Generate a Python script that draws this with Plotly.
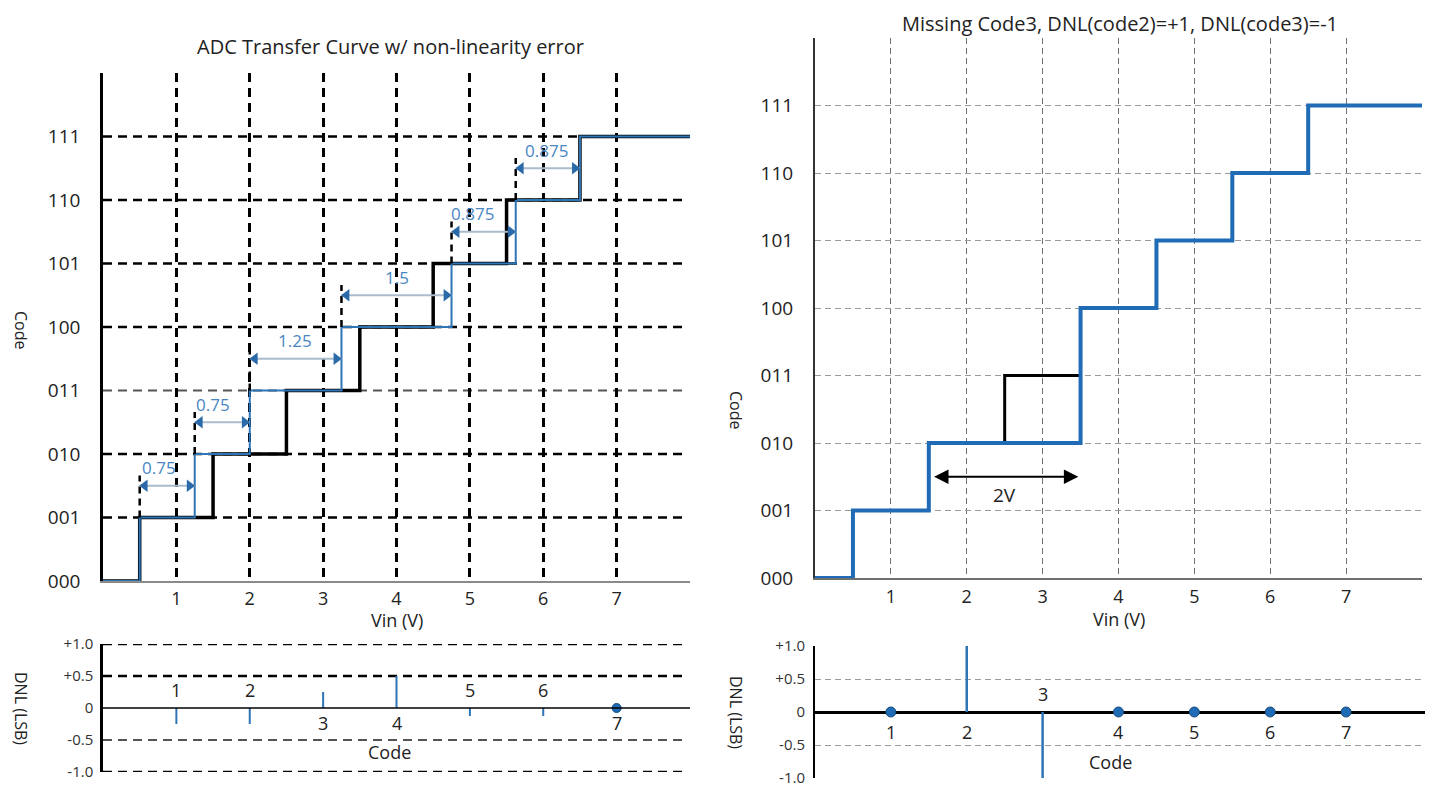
import plotly.graph_objects as go

# ---------------- data ----------------
code_labels = ["000", "001", "010", "011", "100", "101", "110", "111"]
code_levels = [0, 1, 2, 3, 4, 5, 6, 7]
vin_ticks = [1, 2, 3, 4, 5, 6, 7]

# left: ideal vs. actual transition voltages (code k entered at edge k-1)
ideal_edges = [0.5, 1.5, 2.5, 3.5, 4.5, 5.5, 6.5]
actual_edges = [0.5, 1.25, 2.0, 3.25, 4.75, 5.625, 6.5]
width_labels = ["0.75", "0.75", "1.25", "1.5", "0.875", "0.875"]
width_label_x = [0.76, 1.5, 2.62, 4.0, 5.04, 6.04]

dnl_codes = [1, 2, 3, 4, 5, 6, 7]
dnl_left = [-0.25, -0.25, 0.25, 0.5, -0.125, -0.125, 0.0]

# right: missing code 3
right_edges = [0.5, 1.5, 3.5, 4.5, 5.5, 6.5]
right_codes = [1, 2, 4, 5, 6, 7]
ideal_code3_x = [2.5, 2.5, 3.5]
ideal_code3_y = [2, 3, 3]
dnl_right = [0.0, 1.0, -1.0, 0.0, 0.0, 0.0, 0.0]

dnl_ticks = [-1.0, -0.5, 0.0, 0.5, 1.0]
dnl_ticktext = ["-1.0", "-0.5", "0", "+0.5", "+1.0"]

XMAX = 8

FONT = "Open Sans"
BLUE = "#2e75b6"
BLUE_DARK = "#1f6bb5"
TXT = "#222222"

W, H = 1435, 789
OFF = 8  # page body margin


def px_x(p):
    return (p - OFF) / W


def px_y(p):
    return 1 - (p - OFF) / H


fig = go.Figure()

# ---------------- top-left transfer curve ----------------
fig.add_trace(go.Scatter(
    x=[0] + ideal_edges + [XMAX], y=[0] + code_levels[1:] + [7],
    mode="lines", line=dict(color="black", width=3.5, shape="hv"),
    xaxis="x", yaxis="y", hoverinfo="skip"))
fig.add_trace(go.Scatter(
    x=[0] + actual_edges + [XMAX], y=[0] + code_levels[1:] + [7],
    mode="lines", line=dict(color=BLUE, width=2, shape="hv"),
    xaxis="x", yaxis="y", hoverinfo="skip"))

# width dimension arrows
ext_x, ext_y, sh_x, sh_y = [], [], [], []
hl_x, hl_y, hr_x, hr_y = [], [], [], []
off = 0.07
for i, lab in enumerate(width_labels):
    k = i + 1
    s, e = actual_edges[i], actual_edges[i + 1]
    ym = k + 0.5
    ext_x += [s, s, None]
    ext_y += [k, k + 0.66, None]
    sh_x += [s, e, None]
    sh_y += [ym, ym, None]
    hl_x.append(s + off)
    hl_y.append(ym)
    hr_x.append(e - off)
    hr_y.append(ym)
fig.add_trace(go.Scatter(x=ext_x, y=ext_y, mode="lines",
                         line=dict(color="black", width=2.5, dash="7px,5px"),
                         xaxis="x", yaxis="y", hoverinfo="skip"))
fig.add_trace(go.Scatter(x=sh_x, y=sh_y, mode="lines",
                         line=dict(color="#a9bccd", width=1.8),
                         xaxis="x", yaxis="y", hoverinfo="skip"))
fig.add_trace(go.Scatter(x=hl_x, y=hl_y, mode="markers",
                         marker=dict(symbol="triangle-left", size=11, color="#2a6aa8"),
                         xaxis="x", yaxis="y", hoverinfo="skip"))
fig.add_trace(go.Scatter(x=hr_x, y=hr_y, mode="markers",
                         marker=dict(symbol="triangle-right", size=11, color="#2a6aa8"),
                         xaxis="x", yaxis="y", hoverinfo="skip"))

annotations = []
for i, lab in enumerate(width_labels):
    annotations.append(dict(x=width_label_x[i], y=i + 1.5, xref="x", yref="y",
                            xanchor="center", yanchor="middle",
                            text=lab, showarrow=False, yshift=18,
                            font=dict(family=FONT, size=17, color="#4a86c2")))

# ---------------- bottom-left DNL ----------------
st_x, st_y, dot_x = [], [], []
for c, v in zip(dnl_codes, dnl_left):
    if v == 0:
        dot_x.append(c)
    else:
        st_x += [c, c, None]
        st_y += [0, v, None]
fig.add_trace(go.Scatter(x=st_x, y=st_y, mode="lines",
                         line=dict(color=BLUE, width=2),
                         xaxis="x2", yaxis="y2", hoverinfo="skip"))
fig.add_trace(go.Scatter(x=dot_x, y=[0] * len(dot_x), mode="markers",
                         marker=dict(size=9, color=BLUE_DARK, line=dict(color="#174a7c", width=1)),
                         xaxis="x2", yaxis="y2", hoverinfo="skip"))
for c, v in zip(dnl_codes, dnl_left):
    annotations.append(dict(x=c, y=0, xref="x2", yref="y2", text=str(c), showarrow=False,
                            xanchor="center", yanchor="middle",
                            yshift=(18 if v < 0 else -15),
                            font=dict(family=FONT, size=18, color=TXT)))

# ---------------- top-right missing code ----------------
fig.add_trace(go.Scatter(x=ideal_code3_x, y=ideal_code3_y, mode="lines",
                         line=dict(color="black", width=3),
                         xaxis="x3", yaxis="y3", hoverinfo="skip"))
fig.add_trace(go.Scatter(x=[0] + right_edges + [XMAX], y=[0] + right_codes + [7],
                         mode="lines", line=dict(color=BLUE_DARK, width=4, shape="hv"),
                         xaxis="x3", yaxis="y3", hoverinfo="skip"))
annotations.append(dict(x=3.47, y=1.5, ax=1.55, ay=1.5, xref="x3", yref="y3",
                        axref="x3", ayref="y3", text="", showarrow=True,
                        arrowhead=2, arrowside="end+start", arrowsize=1.6,
                        arrowwidth=1.8, arrowcolor="black"))
annotations.append(dict(x=2.5, y=1.5, xref="x3", yref="y3", text="2V", showarrow=False,
                        xanchor="center", yanchor="middle",
                        yshift=-18, font=dict(family=FONT, size=19, color=TXT)))

# ---------------- bottom-right DNL ----------------
st_x, st_y, dot_x = [], [], []
for c, v in zip(dnl_codes, dnl_right):
    if v == 0:
        dot_x.append(c)
    else:
        st_x += [c, c, None]
        st_y += [0, v, None]
fig.add_trace(go.Scatter(x=st_x, y=st_y, mode="lines",
                         line=dict(color=BLUE, width=2.5),
                         xaxis="x4", yaxis="y4", hoverinfo="skip"))
fig.add_trace(go.Scatter(x=dot_x, y=[0] * len(dot_x), mode="markers",
                         marker=dict(size=10, color=BLUE_DARK, line=dict(color="#174a7c", width=1)),
                         xaxis="x4", yaxis="y4", hoverinfo="skip"))
for c, v in zip(dnl_codes, dnl_right):
    annotations.append(dict(x=c, y=0, xref="x4", yref="y4", text=str(c), showarrow=False,
                            xanchor="center", yanchor="middle",
                            yshift=(18 if v < 0 else -20),
                            font=dict(family=FONT, size=18, color=TXT)))

# ---------------- shapes: gridlines for left panels ----------------
shapes = []
for k in code_levels[1:]:
    shapes.append(dict(type="line", xref="x", yref="y", x0=0, x1=7.95, y0=k, y1=k,
                       layer="below",
                       line=dict(color=("#555555" if k == 3 else "black"),
                                 width=(2 if k == 3 else 2.5), dash="9px,6px")))
for v in dnl_ticks:
    if v == 0:
        shapes.append(dict(type="line", xref="x2", yref="y2", x0=0, x1=XMAX, y0=0, y1=0,
                           line=dict(color="black", width=1.5)))
    else:
        shapes.append(dict(type="line", xref="x2", yref="y2", x0=0, x1=7.95, y0=v, y1=v,
                           layer="below",
                           line=dict(color=("#555555" if v == -0.5 else "black"),
                                     width=(2.2 if v == -0.5 else 2.5), dash="9px,6px")))

# ---------------- text annotations ----------------
def txt(x, y, text, size, xref="paper", yref="paper", angle=0):
    return dict(x=x, y=y, xref=xref, yref=yref, text=text, showarrow=False,
                xanchor="center", yanchor="middle", textangle=angle,
                font=dict(family=FONT, size=size, color=TXT))


annotations += [
    txt(px_x(390), px_y(47), "ADC Transfer Curve w/ non-linearity error", 20),
    txt(px_x(1120), px_y(23), "Missing Code3, DNL(code2)=+1, DNL(code3)=-1", 20),
    txt(4, px_y(620), "Vin (V)", 18, xref="x"),
    txt(4, px_y(619), "Vin (V)", 18, xref="x3"),
    txt(3.9, -0.69, "Code", 18, xref="x2", yref="y2"),
    txt(3.9, -0.75, "Code", 18, xref="x4", yref="y4"),
    txt(px_x(21), px_y(330), "Code", 16, angle=90),
    txt(px_x(736), px_y(410), "Code", 16, angle=90),
    txt(px_x(21), px_y(708), "DNL (LSB)", 16, angle=90),
    txt(px_x(736), px_y(712), "DNL (LSB)", 16, angle=90),
]

tick_font = dict(family=FONT, size=19, color=TXT)
xtick_font = dict(family=FONT, size=18, color=TXT)
small_tick_font = dict(family=FONT, size=15, color="#333333")
clear = "rgba(0,0,0,0)"

fig.update_layout(
    width=W, height=H, margin=dict(l=0, r=0, t=0, b=0, autoexpand=False),
    paper_bgcolor="white", plot_bgcolor="white", showlegend=False,
    shapes=shapes, annotations=annotations,
    xaxis=dict(domain=[px_x(103), px_x(690)], range=[0, XMAX], anchor="y", automargin=False,
               tickvals=vin_ticks, ticktext=[str(v) for v in vin_ticks],
               tickfont=xtick_font, ticks="outside", ticklen=1, tickcolor=clear,
               showgrid=True, gridcolor="black", gridwidth=2.5, griddash="9px,6px",
               zeroline=False, showline=True, linecolor="#8a8a8a", linewidth=1.5),
    yaxis=dict(domain=[px_y(581), px_y(73)], range=[0, XMAX], anchor="x", automargin=False,
               tickvals=code_levels, ticktext=code_labels, tickfont=tick_font,
               ticks="outside", ticklen=16, tickcolor=clear,
               showgrid=False, zeroline=False, showline=True,
               linecolor="black", linewidth=2.5),
    xaxis2=dict(domain=[px_x(103), px_x(690)], range=[0, XMAX], anchor="y2", automargin=False,
                showticklabels=False, showgrid=False, zeroline=False, showline=False),
    yaxis2=dict(domain=[px_y(772), px_y(644)], range=[-1, 1], anchor="x2", automargin=False,
                tickvals=dnl_ticks, ticktext=dnl_ticktext, tickfont=small_tick_font,
                ticks="outside", ticklen=4, tickcolor=clear,
                showgrid=False, zeroline=False, showline=True,
                linecolor="black", linewidth=2.5),
    xaxis3=dict(domain=[px_x(815), px_x(1422)], range=[0, XMAX], anchor="y3", automargin=False,
                tickvals=vin_ticks, ticktext=[str(v) for v in vin_ticks],
                tickfont=xtick_font, ticks="outside", ticklen=1, tickcolor=clear,
                showgrid=True, gridcolor="#6f6f6f", gridwidth=1, griddash="6px,4px",
                zeroline=False, showline=True, linecolor="#707070", linewidth=2),
    yaxis3=dict(domain=[px_y(578), px_y(38)], range=[0, XMAX], anchor="x3", automargin=False,
                tickvals=code_levels, ticktext=code_labels, tickfont=tick_font,
                ticks="outside", ticklen=16, tickcolor=clear,
                showgrid=True, gridcolor="#9a9a9a", gridwidth=1, griddash="6px,4px",
                zeroline=False, showline=True, linecolor="#333333", linewidth=2),
    xaxis4=dict(domain=[px_x(815), px_x(1425)], range=[0, XMAX * 1.005], anchor="y4",
                automargin=False,
                showticklabels=False, showgrid=False, zeroline=False, showline=False),
    yaxis4=dict(domain=[px_y(778), px_y(646)], range=[-1, 1], anchor="x4", automargin=False,
                tickvals=dnl_ticks, ticktext=dnl_ticktext, tickfont=small_tick_font,
                ticks="outside", ticklen=5, tickcolor=clear,
                showgrid=True, gridcolor="#9a9a9a", gridwidth=1, griddash="6px,4px",
                zeroline=True, zerolinecolor="black", zerolinewidth=2.5,
                showline=True, linecolor="black", linewidth=2),
)

fig.write_html("out.html")
